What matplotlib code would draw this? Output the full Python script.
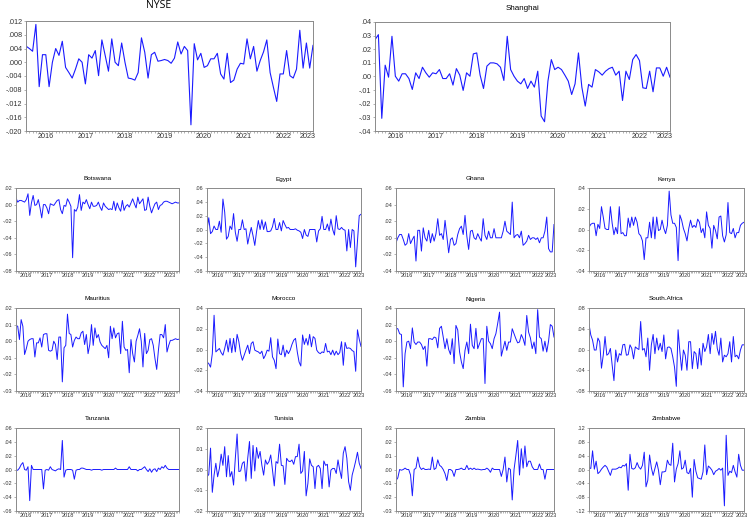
import numpy as np
import matplotlib
matplotlib.use('Agg')
import matplotlib.pyplot as plt
from matplotlib.ticker import FuncFormatter

plt.rcParams['font.family'] = ['Liberation Sans', 'DejaVu Sans']

# monthly returns, first value = 2016M01
nyse = [0.0047, 0.0040, 0.0032, 0.0110, -0.0071, 0.0022, 0.0022, -0.0071, 0.0000, 0.0040,
        0.0020, 0.0061, -0.0015, -0.0030, -0.0046, -0.0020, 0.0010, 0.0000, -0.0063, 0.0022,
        0.0012, 0.0034, -0.0039, 0.0065, 0.0020, -0.0026, 0.0068, 0.0000, -0.0010, 0.0056,
        0.0000, -0.0046, -0.0048, -0.0052, -0.0030, 0.0071, 0.0029, -0.0046, 0.0022, 0.0029,
        0.0003, 0.0005, 0.0008, 0.0005, -0.0003, 0.0012, 0.0059, 0.0024, 0.0046, 0.0034,
        -0.0182, 0.0054, 0.0007, 0.0026, -0.0015, -0.0010, 0.0010, 0.0010, 0.0026, -0.0034,
        -0.0049, 0.0026, -0.0059, -0.0052, -0.0020, -0.0003, -0.0005, 0.0068, 0.0010, 0.0046,
        -0.0026, 0.0005, 0.0030, 0.0065, -0.0030, -0.0073, -0.0114, -0.0034, -0.0034, 0.0034,
        -0.0039, -0.0046, -0.0020, 0.0093, -0.0017, 0.0056, -0.0017, 0.0049]

shanghai = [0.027, 0.0307, -0.0307, 0.0083, -0.0005, 0.0295, 0.0002, -0.0034, 0.0020, 0.0020,
            -0.0015, -0.0095, 0.0027, -0.0015, 0.0068, 0.0027, -0.0005, 0.0027, 0.0020, 0.0051,
            -0.0015, -0.0015, 0.0020, -0.0063, 0.0058, 0.0010, -0.0102, 0.0027, 0.0002, 0.0166,
            0.0173, 0.0010, -0.0088, 0.0076, 0.0100, 0.0100, 0.0093, 0.0068, -0.0029, 0.0295,
            0.0051, 0.0002, -0.0034, -0.0054, -0.0015, -0.0088, -0.0034, -0.0078, 0.0039, -0.0290,
            -0.0332, -0.0034, 0.0124, 0.0051, 0.0068, 0.0051, 0.0010, -0.0034, -0.0132, -0.0054,
            0.0173, -0.0078, -0.0217, -0.0058, -0.0078, 0.0051, 0.0034, 0.0010, 0.0039, 0.0058,
            0.0068, 0.0010, 0.0039, -0.0176, 0.0039, -0.0022, 0.0124, 0.0161, 0.0117, -0.0083,
            -0.0088, 0.0039, -0.0112, 0.0063, 0.0063, 0.0002, 0.0068, -0.0005]

botswana = [0.008, 0.003, 0.005, 0.005, 0.004, 0.003, 0.006, 0.013, -0.013, 0.002,
            0.011, -0.001, 0.000, 0.006, -0.004, -0.016, 0.000, 0.000, -0.004, -0.011,
            0.001, 0.000, -0.001, 0.002, 0.005, 0.006, -0.006, -0.011, -0.001, -0.002,
            0.007, 0.003, -0.002, -0.064, -0.006, -0.008, -0.003, 0.012, -0.007, 0.003,
            0.001, 0.006, 0.000, -0.005, 0.003, -0.002, -0.002, -0.001, 0.003, -0.003,
            -0.007, 0.002, -0.002, -0.004, -0.006, -0.005, -0.006, 0.004, -0.007, 0.002,
            -0.004, -0.008, 0.005, -0.007, -0.002, 0.000, -0.003, 0.002, 0.007, 0.001,
            -0.004, 0.009, 0.001, 0.004, 0.007, -0.007, -0.006, 0.009, -0.002, -0.010,
            -0.004, 0.001, 0.003, -0.006, -0.001, 0.000, 0.003, 0.004, 0.004, 0.003,
            0.002, 0.001, 0.002, 0.003, 0.002, 0.002]

egypt = [0.000, 0.017, -0.006, -0.003, 0.005, 0.000, 0.000, 0.012, -0.004, 0.044,
         0.025, -0.014, -0.010, 0.005, 0.000, 0.023, -0.004, -0.017, 0.000, 0.000,
         0.014, 0.000, 0.001, -0.021, -0.008, 0.003, -0.009, -0.023, -0.003, 0.013,
         0.000, 0.014, 0.000, 0.011, -0.003, -0.003, -0.002, 0.004, 0.016, 0.000,
         0.000, 0.010, -0.002, 0.013, 0.007, 0.002, 0.003, 0.000, 0.000, 0.000,
         0.001, -0.001, -0.002, -0.004, -0.013, 0.000, -0.008, -0.010, 0.000, 0.000,
         0.000, 0.000, -0.018, -0.002, 0.001, 0.019, 0.000, 0.000, 0.008, -0.002,
         0.015, 0.000, -0.008, 0.020, 0.001, 0.000, 0.003, 0.000, -0.001, -0.031,
         0.000, -0.026, 0.000, -0.002, -0.054, -0.017, 0.020, 0.022]

ghana = [-0.006, 0.000, 0.004, 0.004, -0.002, -0.009, -0.007, 0.005, -0.007, -0.002,
         0.002, -0.028, 0.009, 0.009, -0.016, 0.012, 0.000, -0.004, 0.009, -0.006,
         0.005, -0.004, 0.005, 0.023, 0.003, 0.005, -0.002, 0.021, 0.002, -0.018,
         -0.002, 0.000, -0.009, -0.007, 0.004, 0.011, 0.014, 0.004, 0.027, 0.002,
         -0.014, 0.008, 0.009, 0.000, -0.002, 0.005, 0.000, -0.004, 0.023, 0.003,
         -0.002, 0.008, 0.000, 0.000, 0.011, 0.000, 0.000, 0.000, 0.000, 0.008,
         0.020, 0.008, 0.006, 0.004, 0.043, 0.000, 0.003, 0.004, 0.000, 0.008,
         -0.009, -0.007, -0.004, 0.003, -0.002, 0.000, 0.000, -0.002, 0.000, -0.006,
         0.000, 0.000, 0.008, 0.025, -0.013, -0.017, -0.017, 0.016]

kenya = [0.002, 0.005, 0.006, 0.006, -0.006, 0.005, 0.001, 0.022, 0.012, 0.001,
         0.000, 0.000, 0.022, 0.006, -0.005, 0.002, -0.004, 0.022, -0.004, -0.003,
         -0.006, -0.006, 0.011, 0.002, 0.012, 0.004, 0.012, 0.007, -0.004, -0.006,
         -0.011, -0.029, -0.008, -0.008, 0.007, -0.008, 0.012, -0.009, 0.012, -0.001,
         0.000, 0.009, 0.001, -0.004, 0.004, 0.037, 0.014, 0.006, 0.006, 0.002,
         -0.030, 0.014, 0.009, 0.001, -0.004, -0.011, 0.001, 0.009, 0.002, 0.004,
         0.002, 0.010, 0.007, -0.003, 0.001, -0.008, 0.017, 0.004, 0.001, -0.018,
         0.004, -0.001, -0.009, 0.012, 0.013, -0.006, -0.012, -0.005, 0.026, -0.003,
         -0.004, 0.001, -0.008, -0.003, -0.003, 0.004, 0.006, 0.007]

mauritius = [0.0094, 0.009, 0.001, 0.013, 0.009, -0.008, -0.0045, 0.000, 0.001, 0.0015,
             0.0015, -0.0095, -0.001, -0.001, 0.002, -0.0035, 0.004, 0.0045, 0.0045, -0.0055,
             -0.006, -0.0055, 0.000, -0.002, -0.011, 0.0025, 0.0025, -0.0245, -0.004, -0.0025,
             0.0163, 0.0047, 0.004, -0.0035, 0.0005, 0.0025, 0.0015, 0.0015, 0.005, 0.006,
             -0.002, 0.004, -0.0075, -0.002, 0.010, -0.0025, 0.008, 0.002, 0.004, -0.0005,
             -0.0025, -0.0035, -0.0045, -0.0025, -0.010, 0.009, 0.0015, 0.008, 0.002, 0.0045,
             0.005, -0.0075, 0.012, -0.0035, -0.0055, -0.005, -0.019, 0.001, -0.0075, -0.0125,
             0.000, 0.0035, 0.0075, 0.000, -0.0155, 0.0047, -0.0075, -0.0055, 0.001, 0.0015,
             -0.0025, -0.0105, -0.017, -0.0055, 0.004, 0.004, 0.002, 0.010, -0.0065, -0.0025,
             0.0005, 0.0005, 0.001, 0.0015, 0.001, 0.0012]

morocco = [-0.012, -0.0136, -0.017, -0.004, 0.033, -0.0023, -0.0006, 0.001, -0.003, -0.0055,
           0.001, 0.009, -0.0023, 0.0107, -0.003, 0.0107, -0.0023, 0.0146, 0.0075, -0.004,
           -0.0104, -0.0055, -0.0006, 0.0042, -0.004, 0.0058, 0.0075, -0.0006, -0.0016, -0.0023,
           -0.004, -0.0016, -0.0088, -0.0055, -0.0006, -0.0016, 0.0114, -0.0071, -0.0104, -0.0185,
           0.0101, -0.004, -0.005, 0.0042, -0.0071, -0.0006, -0.004, -0.0006, 0.0049, 0.009,
           0.0107, -0.0023, -0.012, -0.0159, 0.014, 0.0049, 0.0107, 0.0042, 0.0146, 0.0026,
           0.0124, 0.0107, -0.0006, -0.003, -0.004, -0.0023, -0.003, 0.0058, -0.0023, -0.0016,
           -0.005, -0.0006, -0.0055, -0.0016, -0.005, -0.003, 0.0075, -0.0152, 0.0068, 0.001,
           0.0016, 0.001, -0.001, -0.002, -0.021, 0.019, 0.010, 0.003]

nigeria = [0.0155, 0.015, 0.009, 0.008, -0.055, -0.015, -0.001, 0.000, -0.009, 0.016,
           -0.001, -0.004, -0.001, -0.001, -0.004, -0.010, -0.006, -0.030, 0.003, 0.003,
           0.002, 0.005, 0.004, -0.008, 0.0155, 0.018, 0.005, -0.009, 0.003, -0.010,
           -0.016, 0.003, -0.027, 0.019, 0.0135, -0.013, -0.025, -0.033, -0.011, -0.001,
           -0.015, 0.0205, -0.005, -0.009, 0.0155, -0.009, -0.003, 0.003, 0.003, -0.051,
           0.018, 0.000, -0.003, -0.009, 0.003, 0.009, 0.0215, 0.035, -0.018, -0.009,
           0.000, -0.011, -0.001, -0.001, 0.015, 0.009, 0.003, -0.002, -0.001, 0.008,
           0.003, -0.005, 0.031, 0.011, 0.004, -0.009, -0.001, -0.015, 0.038, 0.005,
           0.003, -0.012, 0.000, -0.013, 0.000, 0.020, 0.018, 0.005]

south_africa = [0.049, 0.028, 0.018, -0.001, -0.001, 0.022, 0.015, -0.036, -0.011, 0.025,
                -0.011, -0.008, 0.002, -0.030, -0.060, -0.001, -0.024, -0.008, -0.011, 0.009,
                0.010, -0.011, -0.010, 0.009, 0.002, -0.018, 0.005, 0.002, 0.000, 0.054,
                -0.001, 0.002, -0.014, 0.022, -0.040, 0.009, 0.029, -0.008, 0.022, -0.001,
                0.012, -0.004, 0.028, -0.018, 0.004, 0.005, 0.002, -0.014, -0.034, -0.071,
                0.038, -0.004, -0.040, -0.001, -0.011, -0.040, 0.015, 0.015, -0.037, -0.004,
                -0.008, -0.037, 0.002, -0.030, 0.012, -0.004, 0.005, 0.029, -0.008, 0.031,
                0.010, 0.035, 0.002, -0.011, 0.022, -0.024, -0.011, -0.014, -0.008, 0.015,
                -0.024, 0.025, -0.014, -0.011, -0.018, -0.001, 0.009, 0.009]

tanzania = [-0.001, -0.001, 0.002, 0.007, 0.010, 0.000, -0.001, 0.004, -0.045, 0.006,
            0.000, 0.000, 0.000, 0.000, 0.000, 0.000, -0.028, -0.001, 0.000, -0.001,
            0.004, 0.000, -0.001, -0.002, 0.000, 0.001, 0.000, 0.042, -0.011, -0.001,
            0.000, 0.000, 0.000, -0.001, -0.014, -0.001, 0.000, 0.000, 0.002, 0.002,
            0.001, 0.000, 0.000, 0.000, -0.001, 0.000, 0.000, 0.000, 0.000, 0.000,
            -0.001, 0.000, 0.000, 0.000, 0.000, 0.000, 0.000, 0.000, 0.002, 0.000,
            0.000, 0.000, 0.000, 0.000, 0.000, 0.000, 0.004, 0.000, 0.000, 0.000,
            0.000, -0.002, 0.000, 0.000, 0.002, 0.004, 0.000, -0.003, 0.001, -0.004,
            0.000, 0.001, -0.003, 0.002, 0.000, 0.004, 0.002, 0.006, 0.002, 0.000,
            0.000, 0.000, 0.000, 0.000, 0.000, 0.000]

tunisia = [-0.0035, -0.0024, 0.0103, -0.011, -0.0027, 0.003, -0.0035, 0.0005, 0.0074, 0.002,
           0.011, -0.0035, 0.0067, -0.0035, -0.001, -0.0075, 0.0054, 0.0171, -0.001, -0.0007,
           0.003, 0.0038, -0.0056, 0.0054, 0.0135, -0.0043, 0.0116, -0.0007, 0.0106, 0.0054,
           0.0087, 0.002, -0.0027, 0.0046, 0.0025, 0.0038, 0.007, -0.0003, -0.0079, 0.0038,
           0.003, 0.0122, 0.002, 0.0018, -0.0072, 0.0054, 0.0041, 0.0038, 0.0046, 0.0025,
           0.0062, 0.0062, 0.0122, -0.0019, -0.0007, 0.0087, -0.0127, -0.0067, 0.0051, 0.002,
           0.0013, -0.0092, 0.0013, 0.002, 0.0005, -0.0092, 0.0041, 0.002, 0.0025, -0.0084,
           -0.0003, 0.0005, 0.0005, -0.0019, 0.0046, -0.0003, -0.0043, 0.0079, 0.011, 0.0054,
           -0.0059, -0.010, -0.0027, 0.0005, 0.0041, 0.0083, 0.003, 0.0005]

zambia = [-0.008, -0.006, 0.000, -0.0005, 0.000, 0.001, 0.000, 0.000, -0.004, -0.019,
          0.000, 0.001, 0.009, 0.002, 0.000, 0.001, 0.000, 0.000, 0.0003, 0.000,
          0.009, 0.000, 0.001, 0.007, 0.003, 0.002, 0.000, -0.003, -0.008, 0.000,
          0.000, -0.001, -0.005, 0.000, 0.000, 0.0003, 0.001, 0.000, 0.000, 0.003,
          0.000, 0.001, 0.000, 0.001, 0.000, 0.0003, 0.000, -0.0003, 0.000, 0.000,
          0.001, 0.000, -0.002, 0.001, 0.000, 0.000, 0.000, 0.000, -0.005, 0.000,
          0.009, -0.009, 0.001, 0.000, -0.022, 0.000, 0.010, 0.021, -0.004, 0.015,
          0.001, 0.017, 0.002, 0.006, 0.006, 0.002, 0.000, 0.000, 0.000, 0.004,
          0.000, 0.000, -0.007, 0.000, 0.000, 0.000, 0.000, 0.000]

zimbabwe = [0.005, 0.003, 0.054, 0.001, 0.024, -0.012, -0.007, 0.001, 0.007, 0.012,
            0.007, -0.005, -0.017, 0.001, 0.001, 0.001, 0.003, 0.007, 0.005, 0.012,
            0.010, 0.017, -0.060, 0.044, 0.003, 0.001, 0.005, 0.020, 0.007, 0.001,
            0.012, 0.050, -0.050, -0.031, 0.042, 0.005, -0.017, 0.003, 0.022, -0.002,
            -0.044, -0.007, -0.007, -0.005, 0.027, 0.015, 0.012, 0.076, -0.036, 0.001,
            0.017, 0.054, 0.001, 0.005, 0.027, -0.009, -0.012, 0.003, -0.080, 0.029,
            -0.005, -0.024, -0.026, -0.028, -0.007, 0.071, -0.015, 0.010, 0.005, -0.002,
            -0.015, -0.005, -0.002, 0.003, -0.002, 0.004, -0.105, 0.099, -0.017, -0.005,
            -0.009, 0.012, -0.007, -0.022, 0.044, 0.012, -0.002, -0.002]

W, H = 750, 521
fig = plt.figure(figsize=(W / 100, H / 100), dpi=100)
fig.patch.set_facecolor('white')


def box(l, t, r, b):
    # pixel box -> figure fraction
    return fig.add_axes([l / W, 1 - b / H, (r - l) / W, (b - t) / H])


def ev_fmt(dec):
    def f(v, pos):
        if abs(v) < 1e-12:
            v = 0.0
        s = f"{v:.{dec}f}"
        return s.replace('-0.', '-.').replace('0.', '.', 1) if s.startswith(('0.', '-0.')) else s
    return FuncFormatter(f)


def panel(ax, vals, ylo, yhi, step, dec, fs, lw=0.7):
    x = 2016 + np.arange(len(vals)) / 12.0
    ax.plot(x, vals, color='#1a1aff', lw=lw)
    ax.set_xlim(x[0], x[-1])
    ax.set_ylim(ylo, yhi)
    ax.set_yticks(np.arange(ylo, yhi + step / 2, step))
    ax.yaxis.set_major_formatter(ev_fmt(dec))
    mids, labs = [], []
    for yr in range(2016, int(x[-1]) + 1):
        a, b = max(yr, x[0]), min(yr + 1, x[-1])
        mids.append((a + b) / 2)
        labs.append(str(yr))
    ax.set_xticks(mids)
    ax.set_xticklabels(labs)
    ax.set_xticks(x, minor=True)
    ax.tick_params(axis='x', which='major', length=0, pad=1.6, labelsize=fs, colors='#333333')
    ax.tick_params(axis='x', which='minor', length=1.3, width=0.4, color='#777777')
    ax.tick_params(axis='y', length=1.6, width=0.4, pad=1, labelsize=fs, colors='#333333')
    ax.tick_params(axis='y', color='#777777')
    for sp in ax.spines.values():
        sp.set_color('#8a8a8a')
        sp.set_linewidth(0.7)


# top panels
ax = box(26, 21, 313, 131)
panel(ax, nyse, -0.020, 0.012, 0.004, 3, 5.2, lw=0.8)
fig.text(159 / W, 1 - 6 / H, 'NYSE', ha='center', va='center', fontsize=7.5,
         family=['Open Sans', 'DejaVu Sans'])

ax = box(375, 22, 670, 131)
panel(ax, shanghai, -0.04, 0.04, 0.01, 2, 5.2, lw=0.8)
fig.text(523 / W, 1 - 9 / H, 'Shanghai', ha='center', va='center', fontsize=5.8)

# small panels
cols = [(16, 179), (207, 361), (396, 554), (589, 744)]
rows = [(188, 271), (308, 391), (428, 511)]
small = [
    ('Botswana', botswana, -0.08, 0.02, 0.02, 2),
    ('Egypt', egypt, -0.06, 0.06, 0.02, 2),
    ('Ghana', ghana, -0.04, 0.06, 0.02, 2),
    ('Kenya', kenya, -0.04, 0.04, 0.02, 2),
    ('Mauritius', mauritius, -0.03, 0.02, 0.01, 2),
    ('Morocco', morocco, -0.04, 0.04, 0.02, 2),
    ('Nigeria', nigeria, -0.06, 0.04, 0.02, 2),
    ('South.Africa', south_africa, -0.08, 0.08, 0.04, 2),
    ('Tanzania', tanzania, -0.06, 0.06, 0.02, 2),
    ('Tunisia', tunisia, -0.02, 0.02, 0.01, 2),
    ('Zambia', zambia, -0.03, 0.03, 0.01, 2),
    ('Zimbabwe', zimbabwe, -0.12, 0.12, 0.04, 2),
]
for k, (name, vals, lo, hi, st, dec) in enumerate(small):
    (l, r), (t, b) = cols[k % 4], rows[k // 4]
    ax = box(l, t, r, b)
    panel(ax, vals, lo, hi, st, dec, 4.0)
    fig.text((l + r) / 2 / W, 1 - (t - 9) / H, name, ha='center', va='center', fontsize=4.6)

fig.savefig('out.png', dpi=100, facecolor='white')
